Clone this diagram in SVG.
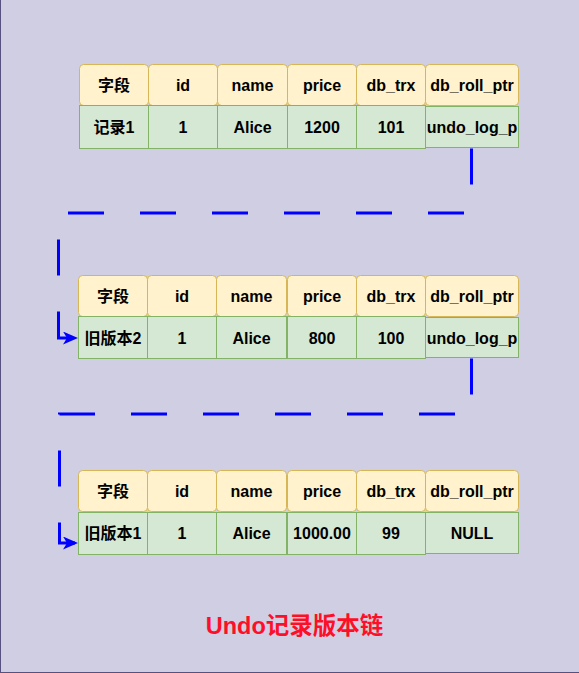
<svg xmlns="http://www.w3.org/2000/svg" width="579" height="673" viewBox="0 0 579 673">
<style>
.bg{fill:#d0cee2;stroke:#56517e;stroke-width:1}
.h{fill:#fff2cc;stroke:#d6b656;stroke-width:1}
.d{fill:#d5e8d4;stroke:#82b366;stroke-width:1}
.t{font-family:"Liberation Sans","Noto Sans CJK SC",sans-serif;font-weight:bold;font-size:16px;fill:#000;text-anchor:middle}
.c{fill:none;stroke:#0000ff;stroke-width:3;stroke-dasharray:36 36}
.title{font-family:"Liberation Sans","Noto Sans CJK SC",sans-serif;font-weight:bold;font-size:23.5px;fill:#ff0f27;text-anchor:middle}
</style>
<defs>
<marker id="arr" markerUnits="userSpaceOnUse" viewBox="0 0 16 13" refX="15" refY="6.5" markerWidth="16" markerHeight="13" orient="auto">
<path d="M0,0 L15,6.5 L0,13 L4,6.5 Z" fill="#0000ff" stroke="none"/>
</marker>
</defs>
<rect class="bg" x="0.5" y="-10" width="600" height="682.5"/>

<g id="table1">
<g id="t1-header">
<rect class="h" x="79.5" y="64.5" width="69" height="41" rx="4"/>
<rect class="h" x="148.5" y="64.5" width="69" height="41" rx="4"/>
<rect class="h" x="217.5" y="64.5" width="70" height="41" rx="4"/>
<rect class="h" x="287.5" y="64.5" width="69" height="41" rx="4"/>
<rect class="h" x="356.5" y="64.5" width="69" height="41" rx="4"/>
<rect class="h" x="425.5" y="64.5" width="93" height="41" rx="4"/>
<text class="t" x="114" y="91">字段</text>
<text class="t" x="183" y="91">id</text>
<text class="t" x="252.5" y="91">name</text>
<text class="t" x="322" y="91">price</text>
<text class="t" x="391" y="91">db_trx</text>
<text class="t" x="472" y="91">db_roll_ptr</text>
</g>
<g id="t1-row">
<rect class="d" x="79.5" y="105.5" width="69" height="43"/>
<rect class="d" x="148.5" y="105.5" width="69" height="43"/>
<rect class="d" x="217.5" y="105.5" width="70" height="43"/>
<rect class="d" x="287.5" y="105.5" width="69" height="43"/>
<rect class="d" x="356.5" y="105.5" width="69" height="43"/>
<rect class="d" x="425.5" y="106.5" width="93" height="41"/>
<text class="t" x="114" y="133">记录1</text>
<text class="t" x="183" y="133">1</text>
<text class="t" x="252.5" y="133">Alice</text>
<text class="t" x="322" y="133">1200</text>
<text class="t" x="391" y="133">101</text>
<text class="t" x="472" y="133">undo_log_p</text>
</g>
</g>

<g id="table2">
<g id="t2-header">
<rect class="h" x="78.5" y="275.5" width="69" height="41" rx="4"/>
<rect class="h" x="147.5" y="275.5" width="69" height="41" rx="4"/>
<rect class="h" x="216.5" y="275.5" width="70" height="41" rx="4"/>
<rect class="h" x="287.5" y="275.5" width="69" height="41" rx="4"/>
<rect class="h" x="356.5" y="275.5" width="69" height="41" rx="4"/>
<rect class="h" x="425.5" y="275.5" width="93" height="41" rx="4"/>
<text class="t" x="113" y="302">字段</text>
<text class="t" x="182" y="302">id</text>
<text class="t" x="251.5" y="302">name</text>
<text class="t" x="322" y="302">price</text>
<text class="t" x="391" y="302">db_trx</text>
<text class="t" x="472" y="302">db_roll_ptr</text>
</g>
<g id="t2-row">
<rect class="d" x="78.5" y="316.5" width="69" height="42"/>
<rect class="d" x="147.5" y="316.5" width="69" height="42"/>
<rect class="d" x="216.5" y="316.5" width="70" height="42"/>
<rect class="d" x="287.5" y="316.5" width="69" height="42"/>
<rect class="d" x="356.5" y="316.5" width="69" height="42"/>
<rect class="d" x="425.5" y="317.5" width="93" height="40"/>
<text class="t" x="113" y="343.5">旧版本2</text>
<text class="t" x="182" y="343.5">1</text>
<text class="t" x="251.5" y="343.5">Alice</text>
<text class="t" x="322" y="343.5">800</text>
<text class="t" x="391" y="343.5">100</text>
<text class="t" x="472" y="343.5">undo_log_p</text>
</g>
</g>

<g id="table3">
<g id="t3-header">
<rect class="h" x="78.5" y="470.5" width="69" height="41" rx="4"/>
<rect class="h" x="147.5" y="470.5" width="69" height="41" rx="4"/>
<rect class="h" x="216.5" y="470.5" width="70" height="41" rx="4"/>
<rect class="h" x="287.5" y="470.5" width="69" height="41" rx="4"/>
<rect class="h" x="356.5" y="470.5" width="69" height="41" rx="4"/>
<rect class="h" x="425.5" y="470.5" width="93" height="41" rx="4"/>
<text class="t" x="113" y="497">字段</text>
<text class="t" x="182" y="497">id</text>
<text class="t" x="251.5" y="497">name</text>
<text class="t" x="322" y="497">price</text>
<text class="t" x="391" y="497">db_trx</text>
<text class="t" x="472" y="497">db_roll_ptr</text>
</g>
<g id="t3-row">
<rect class="d" x="78.5" y="512.5" width="69" height="42"/>
<rect class="d" x="147.5" y="512.5" width="69" height="42"/>
<rect class="d" x="216.5" y="512.5" width="70" height="42"/>
<rect class="d" x="287.5" y="512.5" width="69" height="42"/>
<rect class="d" x="356.5" y="512.5" width="69" height="42"/>
<rect class="d" x="425.5" y="512.5" width="93" height="41"/>
<text class="t" x="113" y="539">旧版本1</text>
<text class="t" x="182" y="539">1</text>
<text class="t" x="251.5" y="539">Alice</text>
<text class="t" x="322" y="539">1000.00</text>
<text class="t" x="391" y="539">99</text>
<text class="t" x="472" y="539">NULL</text>
</g>
</g>

<g id="connectors">
<path class="c" d="M471.5,148.5 V213 H58.5 V338 H78" marker-end="url(#arr)"/>
<path class="c" d="M471.5,358.5 V414 H59.5 V543 H78" marker-end="url(#arr)"/>
</g>

<text class="title" x="294.5" y="634">Undo记录版本链</text>
</svg>
